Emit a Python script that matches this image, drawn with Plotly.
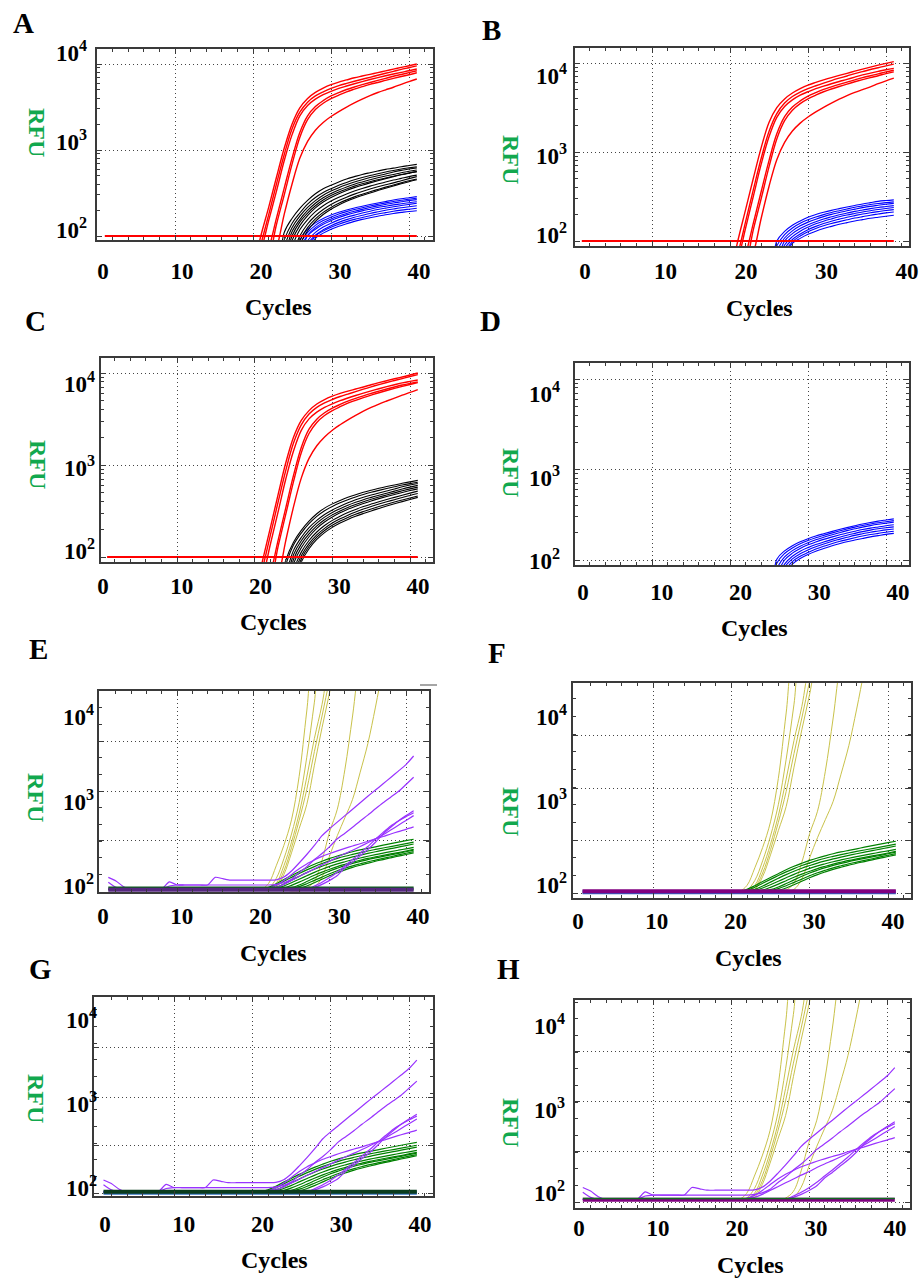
import plotly.graph_objects as go

W, H = 922, 1279
FONT = "Liberation Serif"

# ---------------- data ----------------
CYC = [20, 21, 22, 23, 24, 25, 26, 27, 28, 29, 30, 31, 32, 33, 34, 35, 36, 37, 38, 39, 40, 41]
CYC_LATE = [18, 19, 20, 21, 22, 23, 24, 25, 26, 27, 28, 29, 30, 31, 32, 33, 34, 35, 36, 37, 38, 39, 40, 41]
CYC_ALL = [1, 2, 3, 4, 5, 6, 7, 8, 9, 10, 11, 12, 13, 14, 15, 16, 17, 18, 19, 20, 21,
           22, 23, 24, 25, 26, 27, 28, 29, 30, 31, 32, 33, 34, 35, 36, 37, 38, 39, 40, 41]
THRESHOLD_CYC = [1, 41]
THRESHOLD_RFU = [100, 100]
BASE_CYC = [1, 41]

A_RED = [
    [40, 100, 214, 479, 1047, 1995, 3090, 3981, 4677, 5248, 5754, 6166, 6531, 6918, 7244, 7586, 7943, 8318, 8710, 9120, 9550, 10000],
    [40, 80, 175, 400, 880, 1750, 2750, 3600, 4250, 4750, 5200, 5600, 5950, 6300, 6650, 7000, 7400, 7800, 8200, 8650, 9050, 9500],
    [40, 67, 150, 330, 750, 1500, 2500, 3300, 3900, 4400, 4800, 5200, 5550, 5900, 6250, 6600, 6950, 7300, 7650, 8000, 8350, 8750],
    [40, 40, 70, 160, 360, 800, 1600, 2500, 3200, 3750, 4250, 4650, 5050, 5400, 5750, 6100, 6450, 6800, 7200, 7550, 7950, 8350],
    [40, 40, 55, 135, 300, 680, 1400, 2250, 2950, 3500, 3950, 4350, 4750, 5100, 5450, 5800, 6100, 6450, 6800, 7150, 7500, 7900],
    [40, 40, 40, 70, 178, 400, 800, 1260, 1700, 2090, 2450, 2800, 3160, 3530, 3910, 4290, 4660, 5010, 5370, 5800, 6250, 6700],
]
A_BLACK = [
    [40, 40, 40, 40, 110, 160, 210, 260, 310, 355, 390, 425, 460, 490, 520, 545, 570, 595, 615, 640, 660, 680],
    [40, 40, 40, 40, 90, 140, 185, 235, 280, 320, 355, 390, 420, 450, 478, 505, 530, 555, 578, 600, 620, 640],
    [40, 40, 40, 40, 75, 125, 170, 215, 258, 298, 333, 365, 395, 425, 452, 478, 502, 525, 555, 580, 600, 620],
    [40, 40, 40, 40, 60, 112, 155, 198, 240, 278, 312, 342, 372, 400, 425, 450, 475, 498, 520, 545, 565, 585],
    [40, 40, 40, 40, 50, 100, 145, 185, 225, 262, 295, 325, 352, 380, 405, 428, 450, 472, 495, 518, 540, 560],
    [40, 40, 40, 40, 40, 88, 132, 172, 212, 248, 280, 310, 338, 365, 390, 415, 440, 465, 490, 515, 538, 560],
    [40, 40, 40, 40, 40, 75, 118, 155, 192, 225, 255, 282, 308, 333, 357, 380, 402, 425, 447, 468, 490, 510],
    [40, 40, 40, 40, 40, 60, 100, 138, 172, 203, 232, 258, 283, 307, 330, 352, 373, 394, 415, 440, 465, 490],
    [40, 40, 40, 40, 40, 50, 88, 125, 158, 188, 215, 240, 263, 285, 306, 327, 348, 370, 392, 415, 438, 460],
    [40, 40, 40, 40, 40, 40, 78, 115, 148, 178, 205, 230, 253, 275, 296, 317, 338, 360, 382, 405, 428, 450],
]
A_BLUE = [
    [40, 40, 40, 40, 40, 40, 90, 120, 142, 160, 175, 189, 201, 212, 222, 232, 242, 252, 262, 271, 279, 287],
    [40, 40, 40, 40, 40, 40, 80, 110, 133, 151, 166, 180, 192, 203, 213, 223, 233, 243, 252, 260, 268, 275],
    [40, 40, 40, 40, 40, 40, 70, 102, 125, 143, 158, 171, 183, 194, 204, 214, 224, 233, 242, 250, 258, 265],
    [40, 40, 40, 40, 40, 40, 60, 100, 120, 137, 151, 164, 176, 186, 196, 205, 214, 222, 230, 237, 244, 250],
    [40, 40, 40, 40, 40, 40, 50, 88, 110, 127, 141, 154, 165, 175, 185, 194, 203, 211, 219, 226, 233, 240],
    [40, 40, 40, 40, 40, 40, 40, 80, 102, 118, 132, 144, 155, 165, 174, 183, 191, 199, 206, 213, 219, 225],
    [40, 40, 40, 40, 40, 40, 40, 70, 100, 114, 126, 137, 147, 156, 164, 172, 180, 187, 194, 200, 205, 210],
    [40, 40, 40, 40, 40, 40, 40, 62, 94, 108, 120, 130, 139, 148, 156, 163, 170, 177, 183, 188, 193, 197],
]

B_RED = [
    [40, 100, 225, 510, 1120, 2150, 3150, 3950, 4600, 5150, 5650, 6050, 6450, 6850, 7250, 7650, 8100, 8550, 9000, 9450, 9900, 10350],
    [40, 72, 165, 380, 850, 1700, 2700, 3550, 4200, 4700, 5150, 5550, 5950, 6350, 6750, 7150, 7600, 8000, 8450, 8850, 9300, 9700],
    [40, 62, 140, 320, 730, 1480, 2450, 3250, 3850, 4350, 4750, 5150, 5500, 5850, 6200, 6550, 6950, 7350, 7700, 8050, 8400, 8700],
    [40, 40, 70, 160, 360, 800, 1600, 2500, 3200, 3750, 4250, 4650, 5050, 5400, 5750, 6100, 6450, 6850, 7200, 7550, 7950, 8300],
    [40, 40, 55, 135, 300, 680, 1400, 2250, 2950, 3500, 3950, 4350, 4750, 5100, 5450, 5800, 6150, 6500, 6850, 7200, 7600, 7950],
    [40, 40, 40, 72, 180, 410, 820, 1280, 1720, 2110, 2470, 2820, 3180, 3550, 3930, 4310, 4680, 5030, 5400, 5850, 6300, 6750],
]
B_BLUE = [
    [40, 40, 40, 40, 40, 40, 100, 128, 150, 168, 185, 198, 210, 221, 231, 241, 251, 261, 270, 279, 285, 290],
    [40, 40, 40, 40, 40, 40, 88, 118, 140, 158, 173, 186, 198, 209, 219, 229, 239, 248, 257, 264, 270, 275],
    [40, 40, 40, 40, 40, 40, 76, 108, 130, 148, 163, 176, 188, 199, 209, 219, 228, 237, 245, 252, 259, 265],
    [40, 40, 40, 40, 40, 40, 60, 100, 121, 138, 152, 165, 177, 187, 197, 206, 215, 223, 231, 238, 244, 250],
    [40, 40, 40, 40, 40, 40, 52, 90, 112, 129, 143, 156, 167, 177, 187, 196, 204, 212, 219, 226, 232, 238],
    [40, 40, 40, 40, 40, 40, 45, 82, 104, 120, 134, 146, 157, 167, 176, 185, 193, 201, 208, 214, 220, 225],
    [40, 40, 40, 40, 40, 40, 40, 73, 98, 114, 127, 138, 148, 157, 165, 173, 181, 188, 195, 201, 207, 212],
    [40, 40, 40, 40, 40, 40, 40, 65, 94, 107, 119, 129, 138, 146, 154, 161, 168, 174, 180, 185, 190, 195],
]

C_RED = [
    [40, 90, 205, 470, 1050, 2000, 3050, 3900, 4600, 5150, 5600, 6000, 6350, 6700, 7050, 7450, 7850, 8250, 8650, 9050, 9500, 10000],
    [40, 75, 170, 390, 870, 1730, 2730, 3580, 4230, 4730, 5150, 5550, 5900, 6280, 6680, 7080, 7480, 7880, 8280, 8700, 9150, 9600],
    [40, 60, 135, 305, 700, 1420, 2380, 3170, 3750, 4220, 4620, 5000, 5350, 5700, 6050, 6400, 6750, 7100, 7450, 7800, 8100, 8400],
    [40, 40, 65, 150, 340, 770, 1550, 2450, 3150, 3700, 4150, 4550, 4950, 5300, 5650, 6000, 6350, 6700, 7050, 7400, 7700, 8000],
    [40, 40, 52, 128, 290, 660, 1360, 2200, 2900, 3450, 3900, 4300, 4700, 5050, 5400, 5750, 6100, 6450, 6800, 7150, 7500, 7850],
    [40, 40, 40, 60, 150, 350, 720, 1180, 1620, 2020, 2390, 2740, 3100, 3470, 3850, 4230, 4600, 4960, 5330, 5750, 6150, 6600],
]
C_BLACK = [
    [40, 40, 40, 40, 92, 145, 195, 245, 295, 340, 378, 412, 445, 476, 505, 532, 558, 583, 607, 632, 656, 680],
    [40, 40, 40, 40, 82, 135, 182, 230, 276, 318, 354, 388, 420, 450, 478, 505, 530, 555, 580, 605, 628, 650],
    [40, 40, 40, 40, 65, 118, 163, 208, 250, 290, 325, 357, 388, 418, 446, 472, 497, 522, 548, 580, 605, 630],
    [40, 40, 40, 40, 55, 106, 150, 192, 233, 271, 305, 335, 365, 393, 420, 445, 470, 494, 520, 548, 575, 600],
    [40, 40, 40, 40, 44, 94, 138, 178, 218, 254, 287, 317, 346, 373, 399, 424, 448, 472, 498, 524, 550, 575],
    [40, 40, 40, 40, 40, 84, 126, 166, 205, 240, 272, 302, 330, 357, 382, 407, 431, 455, 479, 503, 527, 550],
    [40, 40, 40, 40, 40, 72, 113, 151, 187, 220, 250, 278, 304, 329, 353, 376, 399, 422, 445, 470, 495, 520],
    [40, 40, 40, 40, 40, 63, 103, 140, 174, 205, 234, 260, 285, 309, 332, 354, 376, 398, 420, 444, 467, 490],
    [40, 40, 40, 40, 40, 55, 95, 131, 164, 194, 221, 246, 269, 291, 312, 333, 354, 375, 396, 417, 438, 460],
    [40, 40, 40, 40, 40, 48, 88, 123, 155, 184, 210, 234, 256, 277, 297, 317, 337, 358, 379, 400, 422, 445],
]

D_BLUE = [
    [40, 40, 40, 40, 40, 40, 102, 126, 144, 159, 172, 184, 195, 206, 217, 228, 239, 250, 260, 269, 277, 285],
    [40, 40, 40, 40, 40, 40, 92, 118, 136, 151, 164, 176, 187, 198, 209, 220, 231, 241, 250, 258, 265, 272],
    [40, 40, 40, 40, 40, 40, 80, 108, 127, 142, 155, 167, 178, 189, 200, 211, 221, 231, 240, 248, 255, 262],
    [40, 40, 40, 40, 40, 40, 68, 100, 119, 134, 147, 158, 169, 179, 189, 199, 208, 217, 225, 232, 239, 245],
    [40, 40, 40, 40, 40, 40, 55, 90, 110, 125, 137, 148, 158, 168, 178, 188, 197, 206, 214, 221, 227, 232],
    [40, 40, 40, 40, 40, 40, 47, 83, 103, 117, 129, 140, 150, 160, 169, 178, 187, 195, 203, 209, 215, 220],
    [40, 40, 40, 40, 40, 40, 40, 74, 96, 110, 121, 132, 142, 151, 160, 168, 176, 184, 191, 197, 203, 208],
    [40, 40, 40, 40, 40, 40, 40, 64, 90, 104, 115, 125, 134, 143, 151, 159, 166, 173, 180, 186, 192, 197],
]

# panels E-H (cycles 18..41)
YELLOW = [
    [100, 100, 100, 100, 118, 190, 330, 660, 2140, 12600, 70000, 90000, 90000, 90000, 90000, 90000, 90000, 90000, 90000, 90000, 90000, 90000, 90000, 90000],
    [100, 100, 100, 100, 104, 135, 230, 450, 1050, 3600, 16000, 80000, 90000, 90000, 90000, 90000, 90000, 90000, 90000, 90000, 90000, 90000, 90000, 90000],
    [100, 100, 100, 100, 102, 118, 190, 360, 780, 2100, 6000, 15000, 50000, 90000, 90000, 90000, 90000, 90000, 90000, 90000, 90000, 90000, 90000, 90000],
    [100, 100, 100, 100, 101, 112, 165, 310, 650, 1500, 4200, 11000, 30000, 80000, 90000, 90000, 90000, 90000, 90000, 90000, 90000, 90000, 90000, 90000],
    [96, 100, 100, 100, 100, 106, 150, 270, 520, 1000, 2900, 8000, 21000, 60000, 90000, 90000, 90000, 90000, 90000, 90000, 90000, 90000, 90000, 90000],
    [100, 100, 100, 100, 100, 100, 100, 97, 96, 104, 125, 220, 480, 880, 2600, 11000, 50000, 90000, 90000, 90000, 90000, 90000, 90000, 90000],
    [100, 100, 100, 100, 100, 100, 100, 96, 100, 100, 106, 140, 250, 430, 700, 1150, 2400, 5200, 14000, 40000, 90000, 90000, 90000, 90000],
]
GREEN = [
    [100, 100, 100, 100, 106, 117, 131, 146, 162, 180, 198, 215, 232, 248, 263, 278, 292, 305, 318, 332, 346, 360, 375, 390],
    [100, 100, 100, 100, 103, 112, 125, 139, 154, 170, 186, 202, 217, 232, 246, 259, 272, 284, 296, 308, 320, 333, 346, 360],
    [100, 100, 100, 100, 101, 106, 116, 129, 143, 158, 173, 188, 202, 216, 229, 242, 254, 266, 278, 290, 302, 315, 329, 343],
    [100, 100, 100, 100, 100, 103, 110, 120, 132, 145, 159, 173, 187, 200, 212, 224, 235, 246, 257, 268, 279, 290, 301, 313],
    [100, 100, 100, 100, 100, 100, 104, 112, 122, 134, 147, 160, 173, 186, 198, 210, 221, 232, 242, 252, 262, 272, 284, 297],
    [100, 100, 100, 100, 100, 100, 101, 105, 113, 124, 137, 151, 165, 178, 191, 203, 214, 225, 235, 245, 255, 266, 278, 290],
    [100, 100, 100, 100, 100, 100, 100, 102, 108, 117, 128, 140, 153, 166, 178, 190, 201, 212, 222, 232, 243, 255, 267, 279],
    [100, 100, 100, 100, 100, 100, 100, 100, 103, 110, 120, 132, 145, 158, 170, 182, 193, 204, 215, 225, 236, 247, 258, 270],
]
# purple, cycles 1..41
PURPLE = [
    [139, 126, 108, 100, 100, 100, 100, 101, 123, 113, 113, 113, 113, 113, 139, 134, 129, 129, 129, 129, 129, 129,
     130, 140, 165, 205, 258, 330, 430, 520, 620, 740, 880, 1050, 1250, 1480, 1750, 2080, 2470, 2950, 3720],
    [122, 106, 100, 100, 100, 100, 100, 100, 110, 113, 113, 113, 113, 113, 113, 113, 113, 113, 113, 113, 113, 113,
     115, 120, 132, 158, 185, 225, 265, 320, 395, 460, 540, 640, 750, 890, 1050, 1220, 1420, 1720, 2090],
    [100, 100, 100, 100, 100, 100, 100, 100, 100, 100, 100, 100, 100, 100, 100, 100, 100, 100, 100, 100, 100, 100,
     100, 100, 100, 100, 102, 106, 115, 128, 146, 180, 210, 250, 295, 360, 450, 540, 640, 740, 845],
    [100, 100, 100, 100, 100, 100, 100, 100, 100, 100, 100, 100, 100, 100, 100, 100, 100, 100, 100, 100, 100, 100,
     100, 100, 100, 100, 100, 110, 122, 138, 160, 190, 225, 268, 320, 390, 470, 560, 640, 720, 800],
    [100, 100, 100, 100, 100, 100, 100, 100, 100, 100, 100, 100, 100, 100, 100, 100, 100, 100, 100, 100, 100, 101,
     106, 115, 128, 142, 158, 175, 195, 215, 240, 265, 290, 320, 355, 395, 440, 500, 570, 650, 740],
    [100, 100, 100, 100, 100, 100, 100, 100, 100, 100, 100, 100, 100, 100, 100, 100, 100, 100, 100, 100, 100, 103,
     112, 128, 150, 175, 200, 222, 245, 265, 285, 305, 325, 345, 370, 395, 420, 450, 480, 510, 545],
]
# overlapping baseline levels (RFU) of the flat wells in E-H: (lower, upper)
BASE_E = [99.0, 102.5]
BASE_F = [98.0, 100.5]
BASE_G = [98.0, 100.5]
BASE_H = [99.5, 103.0]

Y_TICKS = [100, 1000, 10000]
Y_TEXT = ["10<sup>2</sup>", "10<sup>3</sup>", "10<sup>4</sup>"]
X_TICKS = [0, 10, 20, 30, 40]
X_TEXT = ["0", "10", "20", "30", "40"]

# ---------------- styles ----------------
RED, BLACK, BLUE = "#ff0000", "#000000", "#0000ff"
YEL, GRN, PUR = "#c9c24a", "#008000", "#9933ff"
FRAME = "#3a3a3a"
GRID = "#444444"
RFU_GREEN = "#12a84e"

# measured panel geometry (pixels)
PANELS = [
    dict(name="A", box=(97, 433, 49, 240), xg=(175, 409), p2=236, dec=86, grid=None,
         xlab=(103, 419, 269.5), ylab=(230, 53, 87), letter=(23, 23), cyc=(278, 307), rfu=(37, 132)),
    dict(name="B", box=(575, 909, 48, 246), xg=(652, 886), p2=241, dec=89, grid=None,
         xlab=(585, 907, 270), ylab=(235, 76, 567), letter=(491, 30), cyc=(759, 308), rfu=(511, 159)),
    dict(name="C", box=(101, 433, 358, 562), xg=(177, 410), p2=557, dec=92, grid=None,
         xlab=(103, 418, 585), ylab=(551, 384, 95), letter=(35, 321), cyc=(273, 622), rfu=(38, 464)),
    dict(name="D", box=(575, 909, 363, 565), xg=(652, 886), p2=560, dec=90.5, grid=None,
         xlab=(583, 898, 591), ylab=(561, 394, 560), letter=(490, 321), cyc=(754, 628), rfu=(511, 472)),
    dict(name="E", box=(99, 429, 691, 892), xg=(177, 406), p2=889.5, dec=85, grid=(741, 791, 840, 891),
         xlab=(103, 418, 915), ylab=(886, 717, 94), letter=(38, 649), cyc=(273, 953), rfu=(36, 797)),
    dict(name="F", box=(573, 911, 683, 898), xg=(653, 888), p2=891.5, dec=85, grid=(735, 788, 840, 893),
         xlab=(578, 893, 920), ylab=(885, 717, 567), letter=(497, 653), cyc=(748, 958), rfu=(511, 811)),
    dict(name="G", box=(94, 433, 997, 1196), xg=(174, 409), p2=1192, dec=84, grid=(1047, 1097, 1145, 1193),
         xlab=(105, 420, 1223), ylab=(1188, 1020, 97), letter=(40, 969), cyc=(274, 1260), rfu=(36, 1098)),
    dict(name="H", box=(575, 910, 1000, 1208), xg=(653, 887), p2=1199.5, dec=84, grid=(1051, 1101, 1151, 1202),
         xlab=(579, 895, 1227), ylab=(1193, 1026, 565), letter=(508, 969), cyc=(750, 1265), rfu=(511, 1122)),
]

OFF_X = 15   # digit centre below the label axis line
PAD_Y = 1    # gap between y label right edge and label axis

fig = go.Figure()
layout = {}
annotations = []


def ref(letter, n):
    return letter if n == 1 else f"{letter}{n}"


def key(letter, n):
    return f"{letter}axis" if n == 1 else f"{letter}axis{n}"


def add_lines(n, xs, series, color, width, shape="spline", smooth=1.0):
    for ys in series:
        fig.add_trace(go.Scatter(
            x=xs, y=ys, mode="lines",
            line=dict(color=color, width=width, shape=shape, smoothing=smooth),
            xaxis=ref("x", n), yaxis=ref("y", n), hoverinfo="skip", showlegend=False))


tick_font = dict(family=FONT, size=23, color="black", weight="bold")

for k, p in enumerate(PANELS):
    n = 2 * k + 1
    m = 2 * k + 2
    L, R, T, B = p["box"]
    g10, g40 = p["xg"]
    s = (g40 - g10) / 30.0
    x0 = g10 - 10 * s
    xr = [(L - x0) / s, (R - x0) / s]
    yr = [2 - (B - p["p2"]) / p["dec"], 2 + (p["p2"] - T) / p["dec"]]

    if p["grid"] is None:
        ytv = Y_TICKS
        yminor = [mm * 10 ** e for e in (1, 2, 3, 4) for mm in range(2, 10)]
    else:
        glog = [2 + (p["p2"] - g) / p["dec"] for g in p["grid"]]
        ytv = [10 ** g for g in glog]
        step = (glog[0] - glog[1]) / 3.0
        yminor = [10 ** (glog[-1] + i * step) for i in range(1, 16)]

    layout[key("x", n)] = dict(
        domain=[L / W, R / W], anchor=ref("y", n), range=xr, automargin=False,
        tickvals=[10, 20, 30, 40], showticklabels=False,
        showgrid=True, gridcolor=GRID, griddash="1px,3px", gridwidth=1,
        zeroline=False, showline=True, linecolor=FRAME, linewidth=1.5, mirror="ticks",
        ticks="inside", ticklen=5, tickcolor=FRAME,
        minor=dict(tickvals=list(range(2, 44, 2)), ticks="inside", ticklen=3, tickcolor=FRAME, showgrid=False),
    )
    layout[key("y", n)] = dict(
        domain=[1 - B / H, 1 - T / H], anchor=ref("x", n), type="log", range=yr, automargin=False,
        tickvals=ytv, showticklabels=False,
        showgrid=True, gridcolor=GRID, griddash="1px,3px", gridwidth=1,
        zeroline=False, showline=True, linecolor=FRAME, linewidth=1.5, mirror="ticks",
        ticks="inside", ticklen=5, tickcolor=FRAME,
        minor=dict(tickvals=yminor, ticks="inside", ticklen=3, tickcolor=FRAME, showgrid=False),
    )

    # label subplot (tick labels placed as in the figure)
    lab0, lab40, ycen = p["xlab"]
    c2, c4, yright = p["ylab"]
    dl = yright + PAD_Y
    dr = R
    axis_y = ycen - OFF_X
    sl = (lab40 - lab0) / 40.0
    ldec = (c2 - c4) / 2.0
    layout[key("x", m)] = dict(
        domain=[dl / W, dr / W], anchor=ref("y", m), automargin=False,
        range=[(dl - lab0) / sl, (dr - lab0) / sl],
        tickvals=X_TICKS, ticktext=X_TEXT, tickfont=tick_font, ticks="",
        showgrid=False, zeroline=False, showline=False,
    )
    layout[key("y", m)] = dict(
        domain=[1 - axis_y / H, 1 - T / H], anchor=ref("x", m), type="log", automargin=False,
        range=[2 - (axis_y - c2) / ldec, 2 + (c2 - T) / ldec],
        tickvals=Y_TICKS, ticktext=Y_TEXT, tickfont=tick_font, ticks="",
        showgrid=False, zeroline=False, showline=False,
    )
    fig.add_trace(go.Scatter(x=[None], y=[None], mode="lines", xaxis=ref("x", m), yaxis=ref("y", m),
                             hoverinfo="skip", showlegend=False))

    # curves
    nm = p["name"]
    if nm == "A":
        add_lines(n, CYC, A_BLUE, BLUE, 1.1)
        add_lines(n, CYC, A_BLACK, BLACK, 1.1)
        add_lines(n, CYC, A_RED, RED, 1.4)
        add_lines(n, THRESHOLD_CYC, [THRESHOLD_RFU], RED, 1.8, "linear")
    elif nm == "B":
        add_lines(n, CYC, B_BLUE, BLUE, 1.1)
        add_lines(n, CYC, B_RED, RED, 1.4)
        add_lines(n, THRESHOLD_CYC, [THRESHOLD_RFU], RED, 1.8, "linear")
    elif nm == "C":
        add_lines(n, CYC, C_BLACK, BLACK, 1.1)
        add_lines(n, CYC, C_RED, RED, 1.4)
        add_lines(n, THRESHOLD_CYC, [THRESHOLD_RFU], RED, 1.8, "linear")
    elif nm == "D":
        add_lines(n, CYC, D_BLUE, BLUE, 1.1)
    elif nm == "E":
        add_lines(n, CYC_LATE, YELLOW, YEL, 1)
        add_lines(n, CYC_LATE, GREEN, GRN, 1.2)
        add_lines(n, CYC_ALL, PURPLE, PUR, 1.2, smooth=0.6)
        add_lines(n, BASE_CYC, [[BASE_E[1]] * 2], "#0d5a1c", 4, "linear")
        add_lines(n, BASE_CYC, [[BASE_E[0]] * 2], "#55277f", 4, "linear")
    elif nm == "F":
        add_lines(n, CYC_LATE, YELLOW, YEL, 1)
        add_lines(n, CYC_LATE, GREEN, GRN, 1.2)
        add_lines(n, BASE_CYC, [[BASE_F[0]] * 2], "#2f5fbf", 4, "linear")
        add_lines(n, BASE_CYC, [[BASE_F[1]] * 2], "#800080", 4, "linear")
    elif nm == "G":
        add_lines(n, CYC_LATE, GREEN, GRN, 1.2)
        add_lines(n, CYC_ALL, PURPLE, PUR, 1.2, smooth=0.6)
        add_lines(n, BASE_CYC, [[BASE_G[0]] * 2], "#2f6fbf", 4, "linear")
        add_lines(n, BASE_CYC, [[BASE_G[1]] * 2], "#0b3d1f", 4, "linear")
    elif nm == "H":
        add_lines(n, CYC_LATE, YELLOW, YEL, 1)
        add_lines(n, CYC_ALL, PURPLE, PUR, 1.2, smooth=0.6)
        add_lines(n, BASE_CYC, [[BASE_H[0]] * 2], "#800080", 4, "linear")
        add_lines(n, BASE_CYC, [[BASE_H[1]] * 2], "#0f6a1f", 1.5, "linear")

    # texts
    lx, ly = p["letter"]
    annotations.append(dict(text=nm, x=lx / W, y=1 - ly / H, xref="paper", yref="paper",
                            xanchor="center", yanchor="middle", showarrow=False,
                            font=dict(family=FONT, size=29, color="black", weight="bold")))
    cx, cy = p["cyc"]
    annotations.append(dict(text="Cycles", x=cx / W, y=1 - cy / H, xref="paper", yref="paper",
                            xanchor="center", yanchor="middle", showarrow=False,
                            font=dict(family=FONT, size=24, color="black", weight="bold")))
    rx, ry = p["rfu"]
    annotations.append(dict(text="RFU", x=rx / W, y=1 - ry / H, xref="paper", yref="paper",
                            xanchor="center", yanchor="middle", showarrow=False, textangle=90,
                            font=dict(family=FONT, size=24, color=RFU_GREEN, weight="bold")))

fig.update_layout(
    template="none",
    width=W, height=H, margin=dict(l=0, r=0, t=0, b=0, pad=0, autoexpand=False),
    paper_bgcolor="white", plot_bgcolor="rgba(0,0,0,0)",
    showlegend=False, hovermode=False,
    font=dict(family=FONT, size=22, color="black"),
    annotations=annotations,
    shapes=[dict(type="line", xref="paper", yref="paper", x0=420 / W, x1=437 / W,
                 y0=1 - 685 / H, y1=1 - 685 / H, line=dict(color="#888888", width=1.5))],
    **layout,
)

# pin the figure to the page's top-left corner (no body margin / blank line above it)
PIN = ("var gd=document.getElementById('{plot_id}');"
       "document.documentElement.style.margin='0';document.body.style.margin='0';"
       "document.body.style.overflow='hidden';"
       "gd.style.position='absolute';gd.style.left='0px';gd.style.top='0px';")

fig.write_html("out.html", post_script=PIN, config={"displayModeBar": False})
